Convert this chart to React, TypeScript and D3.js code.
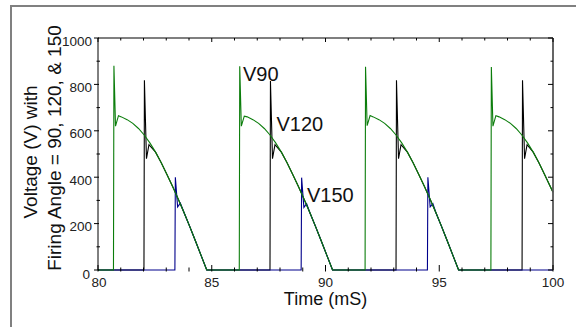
import React from 'react';
import * as d3 from 'd3';

const xTickLabels = [80, 85, 90, 95, 100];
const yTickLabels = [0, 200, 400, 600, 800, 1000];
const xTitle = 'Time (mS)';
const yTitle1 = 'Voltage (V) with';
const yTitle2 = 'Firing Angle = 90, 120, & 150';
const seriesNames = ['V90', 'V120', 'V150'];

// [time (ms), voltage (V)]
const v90: [number, number][] = [
  [80, 0], [80.68, 0], [80.7, 880], [80.77, 620], [80.9, 665], [81.03, 660], [81.28, 648], [81.53, 632],
  [81.78, 610], [82.03, 582], [82.28, 548], [82.53, 508], [82.78, 462], [83.03, 412], [83.28, 360],
  [83.53, 305], [83.78, 248], [84.03, 188], [84.28, 126], [84.53, 63], [84.78, 0],
  [86.21, 0], [86.23, 878], [86.3, 620], [86.43, 663], [86.56, 660], [86.81, 648], [87.06, 632],
  [87.31, 610], [87.56, 582], [87.81, 548], [88.06, 508], [88.31, 462], [88.56, 412], [88.81, 360],
  [89.06, 305], [89.31, 248], [89.56, 188], [89.81, 126], [90.06, 63], [90.31, 0],
  [91.74, 0], [91.76, 876], [91.83, 622], [91.96, 666], [92.1, 660], [92.35, 648], [92.6, 632],
  [92.85, 610], [93.1, 582], [93.35, 548], [93.6, 508], [93.85, 462], [94.1, 412], [94.35, 360],
  [94.6, 305], [94.85, 248], [95.1, 188], [95.35, 126], [95.6, 63], [95.85, 0],
  [97.27, 0], [97.29, 875], [97.36, 620], [97.49, 665], [97.63, 660], [97.88, 648], [98.13, 632],
  [98.38, 610], [98.63, 582], [98.88, 548], [99.13, 508], [99.38, 462], [99.63, 412], [99.88, 360],
  [100, 335],
];

const v120: [number, number][] = [
  [80, 0], [82.02, 0], [82.04, 818], [82.13, 480], [82.24, 540], [82.53, 508], [82.78, 462],
  [83.03, 412], [83.28, 360], [83.53, 305], [83.78, 248], [84.03, 188], [84.28, 126], [84.53, 63],
  [84.78, 0],
  [87.56, 0], [87.58, 815], [87.67, 480], [87.78, 540], [88.06, 508], [88.31, 462], [88.56, 412],
  [88.81, 360], [89.06, 305], [89.31, 248], [89.56, 188], [89.81, 126], [90.06, 63], [90.31, 0],
  [93.1, 0], [93.12, 818], [93.21, 480], [93.32, 540], [93.6, 508], [93.85, 462], [94.1, 412],
  [94.35, 360], [94.6, 305], [94.85, 248], [95.1, 188], [95.35, 126], [95.6, 63], [95.85, 0],
  [98.64, 0], [98.66, 818], [98.75, 480], [98.86, 540], [99.13, 508], [99.38, 462], [99.63, 412],
  [99.88, 360], [100, 335],
];

const v150: [number, number][] = [
  [80, 0], [83.38, 0], [83.4, 400], [83.5, 272], [83.62, 288], [83.78, 248], [84.03, 188],
  [84.28, 126], [84.53, 63], [84.78, 0],
  [88.93, 0], [88.95, 398], [89.05, 270], [89.17, 286], [89.31, 248], [89.56, 188], [89.81, 126],
  [90.06, 63], [90.31, 0],
  [94.48, 0], [94.5, 400], [94.6, 272], [94.72, 286], [94.85, 248], [95.1, 188], [95.35, 126],
  [95.6, 63], [95.85, 0], [100, 0],
];

const FONT = '"Liberation Sans", Arial, Helvetica, sans-serif';

export default function App() {
  const W = 576, H = 327;
  const L = 98, R = 553, T = 38, B = 270;
  const x = d3.scaleLinear().domain([80, 100]).range([L, R]);
  const y = d3.scaleLinear().domain([0, 1000]).range([B, T]);
  const line = d3.line<[number, number]>().x(d => x(d[0])).y(d => y(d[1]));
  const xMinor = x.ticks(20);
  const yMinor = y.ticks(10);

  return (
    <svg width={W} height={H} style={{ position: 'absolute', left: 0, top: 0, background: '#fff' }}
      fontFamily={FONT}>
      <rect x={11} y={6} width={700} height={500} fill="none" stroke="#808080" strokeWidth={2} />

      {/* data */}
      <path d={line(v120) || ''} fill="none" stroke="#000" strokeWidth={1.1} />
      <path d={line(v150) || ''} fill="none" stroke="#00008b" strokeWidth={1.1} />
      <path d={line(v90) || ''} fill="none" stroke="#0b7d0b" strokeWidth={1.1} />

      {/* frame */}
      <line x1={L} x2={R} y1={T} y2={T} stroke="#555" strokeWidth={1.5} />
      <line x1={R} x2={R} y1={T} y2={B} stroke="#555" strokeWidth={1.8} />
      <line x1={L} x2={L} y1={T} y2={B} stroke="#000" strokeWidth={1} />

      {/* x ticks */}
      {xMinor.map(t => {
        const major = xTickLabels.includes(t);
        return (
          <g key={'xt' + t}>
            <line x1={x(t)} x2={x(t)} y1={B + 1.5} y2={B - (major ? 5 : 2.5)} stroke="#000" strokeWidth={1} />
            <line x1={x(t)} x2={x(t)} y1={T} y2={T + (major ? 4 : 2.5)} stroke="#000" strokeWidth={1} />
          </g>
        );
      })}
      {/* y ticks */}
      {yMinor.map(v => {
        const major = yTickLabels.includes(v);
        return (
          <g key={'yt' + v}>
            <line x1={L - (major ? 4 : 1.5)} x2={L + (major ? 1 : 2)} y1={y(v)} y2={y(v)} stroke="#000" strokeWidth={1} />
            <line x1={R} x2={R - (major ? 5 : 2.5)} y1={y(v)} y2={y(v)} stroke="#000" strokeWidth={1} />
          </g>
        );
      })}

      {/* tick labels */}
      {xTickLabels.map(t => (
        <text key={'xl' + t} x={x(t) + (t === 80 ? 1 : 0)} y={287} textAnchor="middle" fontSize={13.5} fill="#222">{t}</text>
      ))}
      {yTickLabels.map(v => (
        <text key={'yl' + v} x={v === 0 ? 90 : 92} y={y(v) + 3 + (v === 0 ? 1 : 0)} textAnchor="end" dominantBaseline="central"
          fontSize={13.5} fill="#222">{v}</text>
      ))}

      {/* titles */}
      <text x={(L + R) / 2} y={305} textAnchor="middle" fontSize={18} fill="#111">{xTitle}</text>
      <text transform={`translate(37,${(T + B) / 2 - 2}) rotate(-90)`} textAnchor="middle" fontSize={19} fill="#111">{yTitle1}</text>
      <text transform={`translate(61,${(T + B) / 2 - 6}) rotate(-90)`} textAnchor="middle" fontSize={19} fill="#111">{yTitle2}</text>

      {/* series labels */}
      <text x={243} y={80.5} fontSize={20} fill="#111">{seriesNames[0]}</text>
      <text x={276.5} y={131} fontSize={20} fill="#111">{seriesNames[1]}</text>
      <text x={307} y={201.5} fontSize={20} fill="#111">{seriesNames[2]}</text>
    </svg>
  );
}
